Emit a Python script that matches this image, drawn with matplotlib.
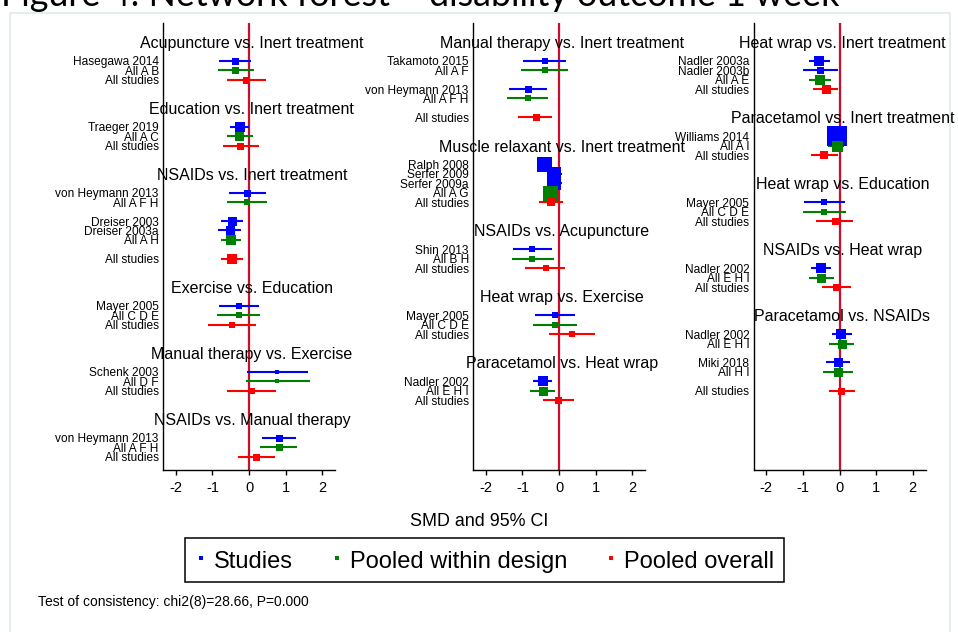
import numpy as np
import matplotlib.pyplot as plt
from matplotlib.lines import Line2D
from matplotlib.patches import Rectangle

plt.rcParams['font.family'] = ['Liberation Sans', 'DejaVu Sans']
plt.rcParams['axes.unicode_minus'] = False

# comparisons and the panel (column) each one sits in
comparisons = [
    "Acupuncture vs. Inert treatment", "Education vs. Inert treatment",
    "NSAIDs vs. Inert treatment", "Exercise vs. Education",
    "Manual therapy vs. Exercise", "NSAIDs vs. Manual therapy",
    "Manual therapy vs. Inert treatment", "Muscle relaxant vs. Inert treatment",
    "NSAIDs vs. Acupuncture", "Heat wrap vs. Exercise", "Paracetamol vs. Heat wrap",
    "Heat wrap vs. Inert treatment", "Paracetamol vs. Inert treatment",
    "Heat wrap vs. Education", "NSAIDs vs. Heat wrap", "Paracetamol vs. NSAIDs",
]
comp_col = [0, 0, 0, 0, 0, 0, 1, 1, 1, 1, 1, 2, 2, 2, 2, 2]

# one entry per row: S = study, D = pooled within design, O = pooled overall
row_comp = [0, 0, 0,
            1, 1, 1,
            2, 2, 2, 2, 2, 2,
            3, 3, 3,
            4, 4, 4,
            5, 5, 5,
            6, 6, 6, 6, 6,
            7, 7, 7, 7, 7,
            8, 8, 8,
            9, 9, 9,
            10, 10, 10,
            11, 11, 11, 11,
            12, 12, 12,
            13, 13, 13,
            14, 14, 14,
            15, 15, 15, 15, 15]
row_label = ["Hasegawa 2014", "All A B", "All studies",
             "Traeger 2019", "All A C", "All studies",
             "von Heymann 2013", "All A F H", "Dreiser 2003", "Dreiser 2003a", "All A H", "All studies",
             "Mayer 2005", "All C D E", "All studies",
             "Schenk 2003", "All D F", "All studies",
             "von Heymann 2013", "All A F H", "All studies",
             "Takamoto 2015", "All A F", "von Heymann 2013", "All A F H", "All studies",
             "Ralph 2008", "Serfer 2009", "Serfer 2009a", "All A G", "All studies",
             "Shin 2013", "All B H", "All studies",
             "Mayer 2005", "All C D E", "All studies",
             "Nadler 2002", "All E H I", "All studies",
             "Nadler 2003a", "Nadler 2003b", "All A E", "All studies",
             "Williams 2014", "All A I", "All studies",
             "Mayer 2005", "All C D E", "All studies",
             "Nadler 2002", "All E H I", "All studies",
             "Nadler 2002", "All E H I", "Miki 2018", "All H I", "All studies"]
row_kind = ["S", "D", "O",
            "S", "D", "O",
            "S", "D", "S", "S", "D", "O",
            "S", "D", "O",
            "S", "D", "O",
            "S", "D", "O",
            "S", "D", "S", "D", "O",
            "S", "S", "S", "D", "O",
            "S", "D", "O",
            "S", "D", "O",
            "S", "D", "O",
            "S", "S", "D", "O",
            "S", "D", "O",
            "S", "D", "O",
            "S", "D", "O",
            "S", "D", "S", "D", "O"]
row_smd = [-0.37, -0.37, -0.07,
           -0.25, -0.27, -0.24,
           -0.05, -0.05, -0.47, -0.53, -0.49, -0.47,
           -0.28, -0.28, -0.46,
           0.77, 0.77, 0.08,
           0.81, 0.81, 0.20,
           -0.39, -0.39, -0.84, -0.86, -0.64,
           -0.41, -0.14, -0.14, -0.24, -0.22,
           -0.73, -0.73, -0.36,
           -0.12, -0.12, 0.35,
           -0.45, -0.45, -0.03,
           -0.55, -0.54, -0.53, -0.37,
           -0.08, -0.07, -0.41,
           -0.41, -0.41, -0.13,
           -0.50, -0.51, -0.09,
           0.05, 0.07, -0.05, -0.05, 0.05]
row_lo = [-0.82, -0.86, -0.60,
          -0.52, -0.60, -0.71,
          -0.55, -0.60, -0.77, -0.84, -0.77, -0.76,
          -0.82, -0.87, -1.11,
          -0.05, -0.08, -0.60,
          0.35, 0.30, -0.31,
          -0.99, -1.04, -1.37, -1.41, -1.11,
          -0.58, -0.33, -0.33, -0.36, -0.55,
          -1.26, -1.29, -0.92,
          -0.66, -0.71, -0.28,
          -0.71, -0.79, -0.45,
          -0.82, -1.01, -0.84, -0.72,
          -0.22, -0.31, -0.77,
          -0.96, -1.00, -0.65,
          -0.77, -0.84, -0.47,
          -0.21, -0.28, -0.38, -0.46, -0.29]
row_hi = [0.06, 0.13, 0.46,
          0.01, 0.10, 0.26,
          0.46, 0.50, -0.16, -0.22, -0.23, -0.16,
          0.26, 0.31, 0.18,
          1.62, 1.66, 0.75,
          1.28, 1.32, 0.70,
          0.20, 0.24, -0.34, -0.29, -0.18,
          -0.24, 0.07, 0.07, -0.12, 0.11,
          -0.20, -0.15, 0.17,
          0.44, 0.48, 0.98,
          -0.20, -0.12, 0.40,
          -0.25, -0.04, -0.23, -0.03,
          0.06, 0.13, -0.04,
          0.14, 0.18, 0.38,
          -0.24, -0.16, 0.31,
          0.33, 0.39, 0.30, 0.36, 0.43]
# relative weight (drawn as marker side)
row_weight = [7, 7, 7,
              10, 9, 7,
              7, 6, 9, 9, 10, 10,
              6, 6, 6,
              5, 5, 6,
              7, 7, 7,
              6, 6, 7, 6, 7,
              15, 14, 14, 15, 8,
              6, 6, 6,
              6, 6, 6,
              10, 9, 7,
              10, 7, 10, 9,
              20, 11, 8,
              6, 6, 7,
              10, 9, 7,
              10, 9, 9, 9, 7]

colors = {"S": "#0000ff", "D": "#008000", "O": "#ff0000"}

# row positions: title, blank, rows (blank after each design if several), 2 blanks
row_y = np.zeros(len(row_label))
title_y = {}
for col in range(3):
    r = 0
    for c in [k for k in range(len(comparisons)) if comp_col[k] == col]:
        title_y[c] = r
        r += 2
        idx = [i for i in range(len(row_label)) if row_comp[i] == c]
        n_design = sum(row_kind[i] == "D" for i in idx)
        for i in idx:
            row_y[i] = r
            r += 1
            if row_kind[i] == "D" and n_design > 1:
                r += 1
        r += 2

W, H = 958, 632
fig = plt.figure(figsize=(W / 100, H / 100), dpi=100)
fig.patches.append(Rectangle((10 / W, -0.05), 940 / W, 1.05 - 13 / H, transform=fig.transFigure,
                             fill=False, edgecolor="#e0eaee", lw=1.2))

lefts = [163, 473, 753.5]
for col in range(3):
    ax = fig.add_axes([lefts[col] / W, 1 - 470 / H, 172 / W, 447 / H])
    ax.set_xlim(-2.35, 2.35)
    ax.set_ylim(45.4, -2.0)
    ax.axvline(0, color="#c8102e", lw=1.6, zorder=1)
    idx = [i for i in range(len(row_label)) if comp_col[row_comp[i]] == col]
    for i in idx:
        c = colors[row_kind[i]]
        ax.plot([row_lo[i], row_hi[i]], [row_y[i], row_y[i]], color=c, lw=1.5,
                solid_capstyle="butt", zorder=2)
        ax.plot(row_smd[i], row_y[i], marker="s", color=c, markersize=row_weight[i] * 0.72,
                markeredgewidth=0, zorder=3)
    for c in [k for k in range(len(comparisons)) if comp_col[k] == col]:
        ax.text(0.08, title_y[c] + 0.15, comparisons[c], ha="center", va="center",
                fontsize=11.5, clip_on=False)
    ax.set_yticks([row_y[i] for i in idx])
    ax.set_yticklabels([row_label[i] for i in idx], fontsize=8.6)
    ax.tick_params(axis="y", length=0, pad=3)
    ax.set_xticks([-2, -1, 0, 1, 2])
    ax.tick_params(axis="x", length=3.6, width=1, labelsize=10.5, pad=4)
    for s in ["top", "right"]:
        ax.spines[s].set_visible(False)
    for s in ["left", "bottom"]:
        ax.spines[s].set_linewidth(1.0)

fig.text(479 / W, 1 - 521 / H, "SMD and 95% CI", ha="center", va="center", fontsize=12.9)
fig.text(38 / W, 1 - 602 / H, "Test of consistency: chi2(8)=28.66, P=0.000", ha="left",
         va="center", fontsize=10)
fig.text(1 / W, 1 - 6 / H, "Figure 4: Network forest \u2013 disability outcome 1 week",
         ha="left", va="baseline", fontsize=25.8, family="Lato")

handles = [Line2D([], [], ls="none", marker="s", markersize=2.6, markeredgewidth=0, color=colors[k])
           for k in ["S", "D", "O"]]
leg = fig.legend(handles, ["Studies", "Pooled within design", "Pooled overall"], loc="center",
                 bbox_to_anchor=(484.5 / W, 1 - 560 / H), ncol=3, fontsize=17, frameon=True,
                 fancybox=False, edgecolor="black", framealpha=1, handlelength=0.5,
                 handleheight=1.2, handletextpad=0.3, columnspacing=1.6, borderpad=0.42)
leg.get_frame().set_linewidth(1.1)

fig.savefig("out.png", dpi=100)
